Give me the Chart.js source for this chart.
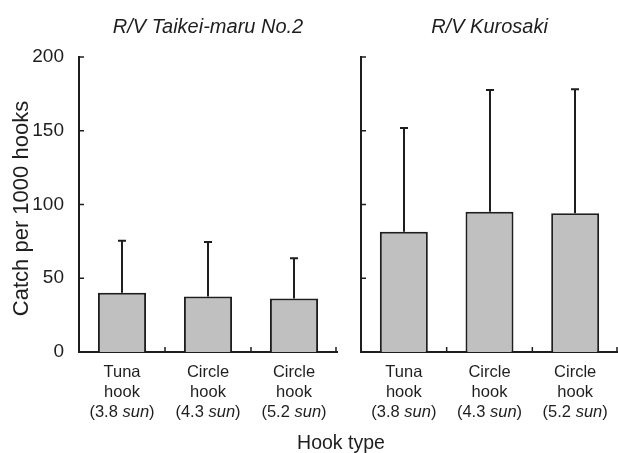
<!DOCTYPE html>
<html>
<head>
<meta charset="utf-8">
<script src="https://cdn.jsdelivr.net/npm/chart.js@4.4.1/dist/chart.umd.min.js"></script>
<style>
  html, body { margin: 0; padding: 0; background: #fff; }
  #wrap { position: relative; width: 618px; height: 453px; overflow: hidden; }
  .pane { position: absolute; top: 0; height: 453px; }
  #p1 { left: 0; width: 345px; }
  #p2 { left: 345px; width: 273px; }
</style>
</head>
<body>
<div id="wrap">
  <div class="pane" id="p1"><canvas id="c1"></canvas></div>
  <div class="pane" id="p2"><canvas id="c2"></canvas></div>
</div>
<script>
// ---- data ----
const categories = ['Tuna hook (3.8 sun)', 'Circle hook (4.3 sun)', 'Circle hook (5.2 sun)'];
const labelLine1 = ['Tuna', 'Circle', 'Circle'];
const labelLine2 = ['hook', 'hook', 'hook'];
const hookSize = ['3.8', '4.3', '5.2'];
const vesselNames = ['R/V Taikei-maru No.2', 'R/V Kurosaki'];
const taikeiMean = [40.2, 37.7, 36.2];
const taikeiSD = [35.3, 36.9, 27.3];
const kurosakiMean = [81.6, 95.1, 94.0];
const kurosakiSD = [70.3, 82.5, 84.1];
const yTicks = [0, 50, 100, 150, 200];
const yTitle = 'Catch per 1000 hooks';
const xTitle = 'Hook type';

const FONT = "'Liberation Sans', Arial, Helvetica, sans-serif";
const INK = '#1e1e1e';

function makePlugin(sd, title, isLeft) {
  return {
    id: 'custom' + (isLeft ? 'L' : 'R'),
    afterDatasetsDraw(chart) {
      const ctx = chart.ctx;
      const meta = chart.getDatasetMeta(0);
      const ys = chart.scales.y;
      const vals = chart.data.datasets[0].data;
      ctx.save();
      ctx.strokeStyle = INK;
      ctx.lineWidth = 2;
      meta.data.forEach((bar, i) => {
        const x = Math.round(bar.x);
        const yb = ys.getPixelForValue(vals[i]);
        const yt = ys.getPixelForValue(vals[i] + sd[i]);
        ctx.beginPath();
        ctx.moveTo(x, yb);
        ctx.lineTo(x, yt);
        ctx.moveTo(x - 4, yt);
        ctx.lineTo(x + 4, yt);
        ctx.stroke();
      });
      ctx.restore();
    },
    afterDraw(chart) {
      const ctx = chart.ctx;
      const ca = chart.chartArea;
      const ys = chart.scales.y;
      const xs = chart.scales.x;
      ctx.save();
      ctx.strokeStyle = INK;
      ctx.lineWidth = 1.5;
      yTicks.forEach(v => {
        const y = ys.getPixelForValue(v);
        ctx.beginPath();
        ctx.moveTo(ca.left, y);
        ctx.lineTo(ca.left + 5, y);
        ctx.stroke();
      });
      const n = chart.data.labels.length;
      for (let i = 0; i < n; i++) {
        let bx;
        if (i < n - 1) bx = (xs.getPixelForValue(i) + xs.getPixelForValue(i + 1)) / 2;
        else bx = ca.right - 1;
        ctx.beginPath();
        ctx.moveTo(bx, ca.bottom);
        ctx.lineTo(bx, ca.bottom - 5);
        ctx.stroke();
      }
      ctx.fillStyle = INK;
      ctx.textBaseline = 'alphabetic';
      const fN = '16.5px ' + FONT;
      const fI = 'italic 16.5px ' + FONT;
      for (let i = 0; i < n; i++) {
        const cx = xs.getPixelForValue(i);
        ctx.font = fN;
        ctx.textAlign = 'center';
        ctx.fillText(labelLine1[i], cx, ca.bottom + 25);
        ctx.fillText(labelLine2[i], cx, ca.bottom + 45);
        const p1 = '(' + hookSize[i] + ' ';
        const p2 = 'sun';
        const p3 = ')';
        ctx.font = fN; const w1 = ctx.measureText(p1).width; const w3 = ctx.measureText(p3).width;
        ctx.font = fI; const w2 = ctx.measureText(p2).width;
        let sx = cx - (w1 + w2 + w3) / 2;
        ctx.textAlign = 'left';
        const by = ca.bottom + 65;
        ctx.font = fN; ctx.fillText(p1, sx, by); sx += w1;
        ctx.font = fI; ctx.fillText(p2, sx, by); sx += w2;
        ctx.font = fN; ctx.fillText(p3, sx, by);
      }
      ctx.font = 'italic 20px ' + FONT;
      ctx.textAlign = 'center';
      ctx.fillText(title, (ca.left + ca.right) / 2, 33);
      if (isLeft) {
        ctx.save();
        ctx.translate(28, (ca.top + ca.bottom) / 2 + 4);
        ctx.rotate(-Math.PI / 2);
        ctx.font = '22px ' + FONT;
        ctx.textAlign = 'center';
        ctx.fillText(yTitle, 0, 0);
        ctx.restore();
      }
      ctx.restore();
    }
  };
}

function makeChart(id, mean, sd, title, isLeft, yWidth, padRight) {
  return new Chart(document.getElementById(id), {
    type: 'bar',
    data: {
      labels: categories,
      datasets: [{
        data: mean,
        backgroundColor: '#c0c0c0',
        borderColor: INK,
        borderWidth: 2,
        categoryPercentage: 1.0,
        barPercentage: 0.56
      }]
    },
    options: {
      responsive: true,
      maintainAspectRatio: false,
      animation: false,
      devicePixelRatio: 1,
      layout: { padding: { top: 57, bottom: 101, left: 0, right: padRight } },
      plugins: { legend: { display: false }, tooltip: { enabled: false }, title: { display: false } },
      scales: {
        x: {
          type: 'category',
          offset: true,
          grid: { display: false },
          border: { display: true, color: INK, width: 2 },
          ticks: { display: false },
          afterFit(s) { s.height = 0; }
        },
        y: {
          min: 0, max: 200,
          afterBuildTicks(s) { s.ticks = yTicks.map(v => ({ value: v })); },
          grid: { display: false },
          border: { display: true, color: INK, width: 2 },
          ticks: {
            display: isLeft,
            padding: 7,
            color: INK,
            font: { family: FONT, size: 19 }
          },
          afterFit(s) { s.width = yWidth; }
        }
      }
    },
    plugins: [makePlugin(sd, title, isLeft)]
  });
}

makeChart('c1', taikeiMean, taikeiSD, vesselNames[0], true, 79, 8);
makeChart('c2', kurosakiMean, kurosakiSD, vesselNames[1], false, 16, 0);

(function () {
  const cv = document.createElement('canvas');
  cv.width = 618; cv.height = 453;
  cv.style.position = 'absolute'; cv.style.left = '0'; cv.style.top = '0';
  cv.style.pointerEvents = 'none';
  document.getElementById('wrap').appendChild(cv);
  const ctx = cv.getContext('2d');
  ctx.fillStyle = INK;
  ctx.font = '19.5px ' + FONT;
  ctx.textAlign = 'center';
  ctx.textBaseline = 'alphabetic';
  ctx.fillText(xTitle, 341, 449);
})();
</script>
</body>
</html>
